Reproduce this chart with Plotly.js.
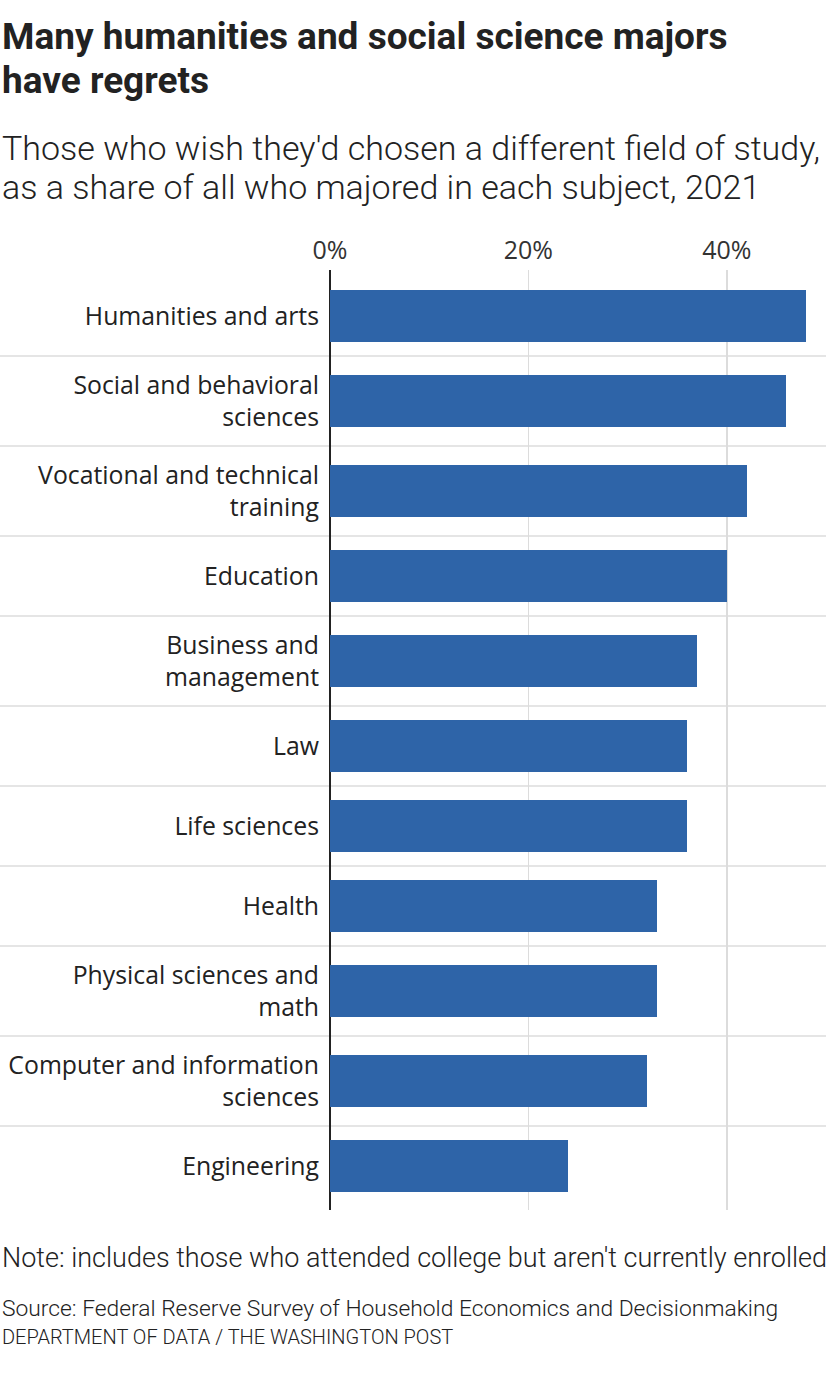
<!DOCTYPE html>
<html>
<head>
<meta charset="utf-8">
<script src="https://cdn.plot.ly/plotly-3.0.1.min.js"></script>
<style>
  html, body { margin: 0; padding: 0; background: #fff; }
  #chart { width: 828px; height: 1373px; }
</style>
</head>
<body>
<div id="chart"></div>
<script>
// ---- Data ----
const categories = [
  "Humanities and arts",
  "Social and behavioral<br>sciences",
  "Vocational and technical<br>training",
  "Education",
  "Business and<br>management",
  "Law",
  "Life sciences",
  "Health",
  "Physical sciences and<br>math",
  "Computer and information<br>sciences",
  "Engineering"
];
const regretShare = [48, 46, 42, 40, 37, 36, 36, 33, 33, 32, 24];
const xTickValues = [0, 20, 40];
const xTickLabels = ["0%", "20%", "40%"];

const titleLines = ["Many humanities and social science majors", "have regrets"];
const subtitleLines = ["Those who wish they'd chosen a different field of study,", "as a share of all who majored in each subject, 2021"];
const noteText = "Note: includes those who attended college but aren't currently enrolled";
const sourceText = "Source: Federal Reserve Survey of Household Economics and Decisionmaking";
const creditText = "DEPARTMENT OF DATA / THE WASHINGTON POST";

// ---- Layout geometry ----
const W = 828, H = 1373;
const M = { l: 330, r: 2, t: 270, b: 163 };
const plotW = W - M.l - M.r, plotH = H - M.t - M.b;

// row heights: two-line labels get taller rows
const rowH = categories.map(c => c.includes("<br>") ? 9 : 8);
const centers = [];
rowH.forEach((h, i) => {
  if (i === 0) centers.push(0);
  else centers.push(centers[i - 1] + (rowH[i - 1] + h) / 2);
});
const bounds = centers.slice(0, -1).map((c, i) => c + rowH[i] / 2);
const yTop = centers[0] - 4.6;
const yBot = centers[centers.length - 1] + 4.4;

const px2x = px => (px - M.l) / plotW;
const py2y = py => (H - M.b - py) / plotH;

const ink = "#222";
const fontMain = "Roboto, 'Noto Sans', sans-serif";
const fontLabel = "'Open Sans', Roboto, sans-serif";

const shapes = bounds.map(b => ({
  type: "line", xref: "paper", yref: "y",
  x0: px2x(0), x1: px2x(826), y0: b, y1: b,
  line: { color: "#dcdcdc", width: 1.5 }, layer: "below"
}));

function ann(text, py, size, weight) {
  return {
    text: text, xref: "paper", yref: "paper",
    x: px2x(0), y: py2y(py), xanchor: "left", yanchor: "middle",
    showarrow: false, align: "left",
    font: { family: fontMain, size: size, color: ink, weight: weight }
  };
}

const annotations = [
  ann(titleLines[0], 36, 37, 700),
  ann(titleLines[1], 80, 37, 700),
  ann(subtitleLines[0], 148, 34, 300),
  ann(subtitleLines[1], 187, 34, 300),
  ann(noteText, 1258, 27, 300),
  ann(sourceText, 1308, 22.8, 300),
  ann(creditText, 1337, 20, 300)
];

const trace = {
  type: "bar", orientation: "h",
  x: regretShare, y: centers,
  width: 5.2,
  marker: { color: "#2e64a8" },
  hoverinfo: "skip"
};

const layout = {
  width: W, height: H,
  margin: M,
  paper_bgcolor: "#fff", plot_bgcolor: "#fff",
  showlegend: false,
  bargap: 0,
  xaxis: {
    side: "top", range: [0, 50],
    tickvals: xTickValues, ticktext: xTickLabels,
    showgrid: true, gridcolor: "#dcdcdc", gridwidth: 1.5,
    zeroline: true, zerolinecolor: ink, zerolinewidth: 2,
    showline: false, ticks: "",
    tickfont: { family: fontLabel, size: 25, color: "#333", weight: 400 },
    ticklabelstandoff: 5,
    fixedrange: true
  },
  yaxis: {
    range: [yBot, yTop],
    tickvals: centers, ticktext: categories,
    showgrid: false, zeroline: false, showline: false, ticks: "",
    tickfont: { family: fontLabel, size: 24.8, color: ink, weight: 400 },
    ticklabelstandoff: 10,
    fixedrange: true
  },
  shapes: shapes,
  annotations: annotations
};

Plotly.newPlot("chart", [trace], layout, { displayModeBar: false, staticPlot: true });
</script>
</body>
</html>
